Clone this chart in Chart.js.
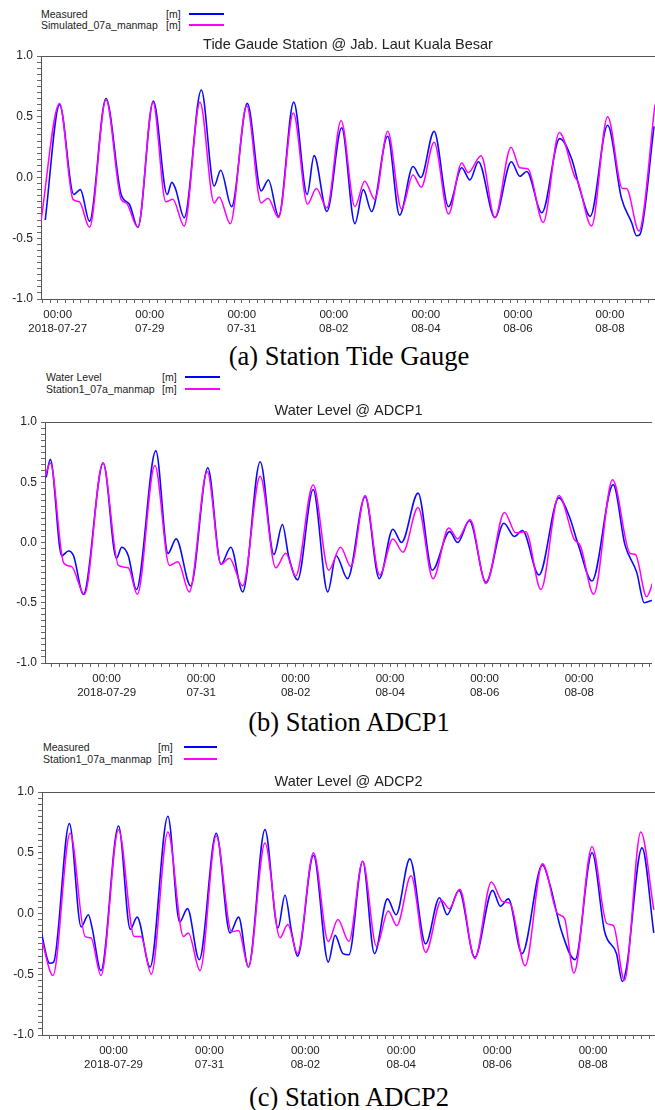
<!DOCTYPE html>
<html><head><meta charset="utf-8">
<script src="https://cdn.jsdelivr.net/npm/chart.js@4.4.1/dist/chart.umd.min.js"></script>
<style>
body{margin:0;background:#fff;width:655px;height:1110px;position:relative;overflow:hidden;font-family:"Liberation Sans",Arial,sans-serif;}
.lg{position:absolute;font-size:10.5px;color:#222;white-space:nowrap;line-height:12px;}
.ln{position:absolute;height:0;border-top:2px solid;}
.cap{position:absolute;left:0;width:698px;text-align:center;font-family:"Liberation Serif","Times New Roman",serif;font-size:26.5px;color:#000;line-height:30px;}
canvas{position:absolute;left:0;}
</style></head><body>

<div class="lg" style="left:41px;top:8px">Measured</div>
<div class="lg" style="left:166px;top:8px">[m]</div>
<div class="ln" style="left:189px;top:13px;width:35px;border-color:#0000ff"></div>
<div class="lg" style="left:41px;top:19px">Simulated_07a_manmap</div>
<div class="lg" style="left:166px;top:19px">[m]</div>
<div class="ln" style="left:189px;top:24px;width:35px;border-color:#ff00ff"></div>
<canvas id="cA" width="655" height="305" style="top:34px"></canvas>
<div class="cap" style="top:341px">(a) Station Tide Gauge</div>

<div class="lg" style="left:46px;top:371px">Water Level</div>
<div class="lg" style="left:162px;top:371px">[m]</div>
<div class="ln" style="left:185px;top:376px;width:35px;border-color:#0000ff"></div>
<div class="lg" style="left:46px;top:383px">Station1_07a_manmap</div>
<div class="lg" style="left:162px;top:383px">[m]</div>
<div class="ln" style="left:185px;top:388px;width:35px;border-color:#ff00ff"></div>
<canvas id="cB" width="655" height="303" style="top:400px"></canvas>
<div class="cap" style="top:707px">(b) Station ADCP1</div>

<div class="lg" style="left:43px;top:741px">Measured</div>
<div class="lg" style="left:158px;top:741px">[m]</div>
<div class="ln" style="left:184px;top:746px;width:33px;border-color:#0000ff"></div>
<div class="lg" style="left:43px;top:753px">Station1_07a_manmap</div>
<div class="lg" style="left:158px;top:753px">[m]</div>
<div class="ln" style="left:184px;top:758px;width:33px;border-color:#ff00ff"></div>
<canvas id="cC" width="655" height="305" style="top:770px"></canvas>
<div class="cap" style="top:1082px">(c) Station ADCP2</div>

<script>
// time in hours since 2018-07-27 00:00
const tA_sim = [-9,1,8,11.3,16.6,25.2,33.1,35.8,41.8,49.7,56.4,60,66,74.2,81.6,84.2,90,98.6,106.1,109.7,115.2,122.9,130.3,134.9,140.4,147.8,155,160.1,165.4,172.1,179.3,185.3,189.6,196.3,203.8,210.7,214.1,220.8,228,236.4,241,245.3,253.2,261.6,269.8,271.2,278.4,286.8,294.5,296.6,303.1,311.5];
const vA_sim = [-0.39,0.61,-0.18,-0.20,-0.41,0.64,-0.18,-0.21,-0.41,0.62,-0.20,-0.18,-0.40,0.62,-0.21,-0.16,-0.38,0.59,-0.21,-0.17,-0.33,0.53,-0.22,-0.09,-0.25,0.47,-0.24,-0.03,-0.18,0.38,-0.26,0.02,-0.08,0.29,-0.30,0.12,0.04,0.18,-0.33,0.25,0.08,0.07,-0.37,0.37,0.00,-0.03,-0.40,0.50,-0.09,-0.09,-0.44,0.60];
const tA_meas = [-6.5,1,8.4,11.8,16.6,25.2,33.1,37.4,41.8,49.9,57.1,59.5,61.4,66,74.9,81.6,85,90.7,98.9,106.1,109.9,115.2,123.1,130.1,133.7,140.4,148.1,155,159.4,163.7,172.1,178.3,185.3,189.4,196.3,203.8,210.7,215,219.4,228,236.6,241,244.6,252.5,261.8,268.1,272.4,277.7,286.8,294,299.3,301.9,303.6,311];
const vA_meas = [-0.35,0.60,-0.14,-0.10,-0.36,0.65,-0.14,-0.22,-0.41,0.63,-0.14,-0.04,-0.09,-0.33,0.72,-0.07,0.06,-0.24,0.61,-0.11,-0.02,-0.32,0.62,-0.14,0.18,-0.28,0.41,-0.38,-0.10,-0.28,0.34,-0.31,0.09,0.00,0.38,-0.24,0.08,-0.02,0.13,-0.33,0.13,0.01,0.05,-0.29,0.32,0.15,-0.10,-0.32,0.43,-0.17,-0.37,-0.48,-0.47,0.42];

const tB_sim = [16.8,19.4,26.2,30.2,36.7,46.1,54,59,63.6,72.5,79.9,84.2,90,99.1,106.1,110.4,117.1,126,133.9,139,144,152.9,160.8,166.8,172.1,179.3,186.7,193.4,198.5,206.2,213.8,221.8,226.3,232.6,240.7,250.1,255.8,260.9,268.6,277.7,285.4,288.7,295.4,305,313.9,316.6,322.3,325.5];
const vB_sim = [0.55,0.66,-0.17,-0.20,-0.43,0.66,-0.19,-0.21,-0.43,0.64,-0.19,-0.16,-0.41,0.59,-0.18,-0.13,-0.36,0.55,-0.21,-0.09,-0.28,0.48,-0.23,-0.04,-0.20,0.39,-0.27,0.03,-0.08,0.29,-0.30,0.12,0.03,0.19,-0.34,0.25,0.08,0.09,-0.39,0.39,0.03,-0.03,-0.43,0.52,-0.09,-0.10,-0.45,-0.33];
const tB_meas = [17.3,19.4,25.2,28.6,31.2,36.2,46.3,53,55.7,59,63.1,73,79.2,83.3,90.7,99.4,106.1,111.1,117.1,126,133,137.3,140.4,145,152.9,160.3,164.6,170.4,179.3,186.5,193.4,197.8,206.2,213.4,222.2,226.3,232.3,240.7,249.8,255.1,259.2,267.6,277.7,282.7,287.8,294.5,305.3,311.3,317.3,321.1,325];
const vB_meas = [0.54,0.69,-0.11,-0.07,-0.11,-0.43,0.66,-0.13,-0.04,-0.11,-0.39,0.76,-0.09,0.03,-0.36,0.62,-0.18,-0.04,-0.41,0.67,-0.10,0.15,-0.11,-0.31,0.44,-0.41,-0.11,-0.30,0.38,-0.30,0.11,0.00,0.41,-0.23,0.09,0.00,0.18,-0.33,0.16,0.05,0.10,-0.27,0.37,0.23,-0.03,-0.32,0.48,-0.02,-0.25,-0.50,-0.48];

const tC_sim = [12.1,17.7,26.3,33.8,36.7,41.7,50.5,58.4,61.7,66.9,75.2,83,85.4,91.3,99.4,107.1,110.6,115.5,123.8,131.3,135.2,140.1,148.1,155.5,160.3,165.8,172.7,179.6,185.5,189.8,196.9,204.2,212.1,216,221.3,228.8,237.1,242.6,246.6,254,262.7,270.2,273.7,278.4,287.5,294.8,298.2,303.7,311.9,318.4];
const vC_sim = [-0.22,-0.51,0.66,-0.19,-0.20,-0.51,0.69,-0.19,-0.19,-0.50,0.67,-0.19,-0.16,-0.47,0.64,-0.15,-0.14,-0.44,0.58,-0.20,-0.09,-0.33,0.50,-0.23,-0.05,-0.23,0.43,-0.27,0.02,-0.10,0.31,-0.32,0.11,0.04,0.20,-0.37,0.26,0.10,0.08,-0.43,0.41,0.00,-0.04,-0.49,0.55,-0.08,-0.10,-0.55,0.67,0.03];
const tC_meas = [11.7,16.1,18,25.9,31.8,35.4,37.3,41.7,50.5,56.4,59.8,66.3,75.2,81.1,85,90.9,99.4,106.3,110.6,115.5,123.8,130.3,133.8,137.2,140.1,148.1,155.5,158.9,162.8,165.8,172.7,178.6,185.1,189.4,196.3,204.2,211.1,215,220.9,228.8,237.7,241.6,245.6,252.4,262.7,266.2,272.1,279,287.5,293.8,299.7,302.7,304.7,312.5,318.4];
const vC_meas = [-0.15,-0.41,-0.40,0.74,-0.11,-0.01,-0.12,-0.47,0.72,-0.13,-0.03,-0.44,0.80,-0.07,0.04,-0.38,0.66,-0.16,-0.03,-0.44,0.69,-0.12,0.15,-0.16,-0.35,0.48,-0.40,-0.18,-0.33,-0.34,0.43,-0.33,0.12,-0.01,0.45,-0.25,0.13,-0.01,0.19,-0.36,0.19,0.06,0.12,-0.33,0.40,0.25,-0.14,-0.38,0.50,-0.15,-0.33,-0.56,-0.45,0.54,-0.16];

const titles = ["Tide Gaude Station @ Jab. Laut Kuala Besar","Water Level @ ADCP1","Water Level @ ADCP2"];
const measLabels = ["Measured","Water Level","Measured"];
const simLabels = ["Simulated_07a_manmap","Station1_07a_manmap","Station1_07a_manmap"];
const yTickValues = []; for (let i=-20;i<=20;i++) yTickValues.push(i/20);
const X_STEP = 4, X_LABEL_EVERY = 48;
const START = Date.UTC(2018,6,27);
const FONT = '"Liberation Sans", Arial, sans-serif';

function pad(n){return String(n).padStart(2,'0');}
function xLabel(v, xmin){
  if (v % X_LABEL_EVERY !== 0) return '';
  const d = new Date(START + v*3600000);
  const md = pad(d.getUTCMonth()+1)+'-'+pad(d.getUTCDate());
  const first = (v - X_LABEL_EVERY) < xmin;
  return ['00:00', first ? d.getUTCFullYear()+'-'+md : md];
}

function makeChart(id, c){
  const toPts = (t,v)=>t.map((x,i)=>({x:x,y:v[i]}));
  new Chart(document.getElementById(id), {
    type:'line',
    data:{datasets:[
      {label:c.meas, data:toPts(c.tm,c.vm), borderColor:'#0a0aff', borderWidth:1.6, pointRadius:0, cubicInterpolationMode:'monotone', order:2},
      {label:c.sim, data:toPts(c.ts,c.vs), borderColor:'#ff00ff', borderWidth:1.5, pointRadius:0, cubicInterpolationMode:'monotone', order:1}
    ]},
    options:{
      responsive:false, animation:false, devicePixelRatio:1,
      layout:{padding:0},
      plugins:{
        legend:{display:false}, tooltip:{enabled:false},
        title:{display:true, text:c.title, fullSize:false, color:'#222',
          font:{family:FONT,size:14.5,weight:'normal'}, padding:{top:c.pt,bottom:22-c.pt-17.4}}
      },
      scales:{
        x:{type:'linear', min:c.xmin, max:c.xmax,
          afterFit:s=>{s.height=40;},
          afterBuildTicks:s=>{const t=[];for(let v=Math.ceil(c.xmin/X_STEP)*X_STEP; v<=c.xmax; v+=X_STEP) t.push({value:v}); s.ticks=t;},
          ticks:{autoSkip:false,maxRotation:0,minRotation:0,padding:5,color:'#222',font:{family:FONT,size:11.5},
            callback:v=>xLabel(v,c.xmin)},
          grid:{drawOnChartArea:false,tickLength:4,color:'#666'},
          border:{display:true,color:'#555'}
        },
        y:{min:-1,max:1,
          afterFit:s=>{s.width=c.yw;},
          afterBuildTicks:s=>{s.ticks=yTickValues.map(v=>({value:v}));},
          ticks:{autoSkip:false,padding:4,color:'#222',font:{family:FONT,size:12},
            callback:v=>(Math.abs(v*2-Math.round(v*2))<1e-9 ? v.toFixed(1) : '')},
          grid:{drawOnChartArea:true,tickLength:4,
            color:ctx=>(ctx.tick && Math.abs(ctx.tick.value-1)<1e-9 ? '#555' : 'rgba(0,0,0,0)'),
            tickColor:'#666'},
          border:{display:true,color:'#555'}
        }
      }
    }
  });
}

makeChart('cA',{title:titles[0],meas:measLabels[0],sim:simLabels[0],tm:tA_meas,vm:vA_meas,ts:tA_sim,vs:vA_sim,xmin:-8.7,xmax:311.5,yw:41,pt:2});
makeChart('cB',{title:titles[1],meas:measLabels[1],sim:simLabels[1],tm:tB_meas,vm:vB_meas,ts:tB_sim,vs:vB_sim,xmin:16.7,xmax:325,yw:45,pt:2});
makeChart('cC',{title:titles[2],meas:measLabels[2],sim:simLabels[2],tm:tC_meas,vm:vC_meas,ts:tC_sim,vs:vC_sim,xmin:12.2,xmax:319,yw:42,pt:3});
</script>
</body></html>
